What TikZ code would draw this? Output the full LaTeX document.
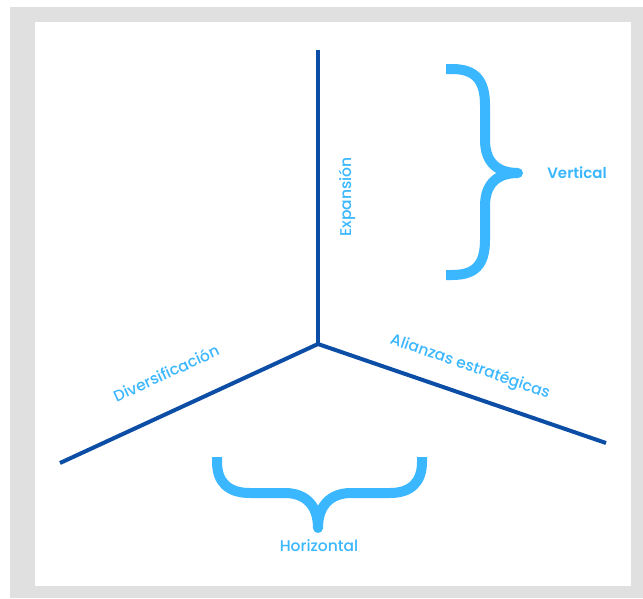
\documentclass[tikz,border=0pt]{standalone}
\usepackage{fontspec}
\setmainfont{Poppins}
\newfontfamily\medio{Poppins Medium}
\newfontfamily\semi{Poppins SemiBold}
\usepackage{tikz}
\usepackage{xcolor}
\usetikzlibrary{positioning, calc}

\definecolor{ejeazul}{RGB}{12,78,166}
\definecolor{celeste}{RGB}{58,183,255}
\definecolor{marco}{RGB}{224,224,224}

\begin{document}
\begin{tikzpicture}[
  x=1pt, y=-1pt,
  eje/.style={draw=ejeazul, line width=4pt},
  llave/.style={draw=celeste, line width=10pt, line join=round},
  etiqueta/.style={text=celeste, font=\medio\fontsize{15.5}{17}\selectfont, inner sep=1pt}
]
\useasboundingbox (0,0) rectangle (643,598);

% Frame and white sheet
\fill[white] (0,0) rectangle (643,598);
\fill[marco] (10,7) rectangle (643,598);
\fill[white] (35,22) rectangle (631,586);

% Axes
\coordinate (centro) at (318,344);
\coordinate (arriba) at (318,50);
\coordinate (izq) at (60,463);
\coordinate (der) at (606,443);
\draw[eje] (centro) -- (arriba);
\draw[eje] (centro) -- (izq);
\draw[eje] (centro) -- (der);

% Axis labels
\node[etiqueta, rotate=90] (expansion) at (347,197) {Expansión};
\node[etiqueta, rotate=24.8] (diversif) at (166,373) {Diversificación};
\node[etiqueta, rotate=-19] (alianzas) at (470,367) {Alianzas estratégicas};

% Vertical brace
\draw[llave] (446,69) -- (452,69) .. controls (475,69) and (485,80) .. (485,105)
  -- (485,140) .. controls (485,162) and (497,173) .. (518,173)
  .. controls (497,173) and (485,184) .. (485,206)
  -- (485,240) .. controls (485,265) and (475,275) .. (452,275) -- (446,275);
\node[etiqueta, font=\semi\fontsize{15}{17}\selectfont] (vertical) at (577,173) {Vertical};

% Horizontal brace
\draw[llave] (217,457) -- (217,462) .. controls (217,482) and (228,493) .. (250,493)
  -- (285,493) .. controls (305,493) and (318,505) .. (318,528)
  .. controls (318,505) and (331,493) .. (351,493)
  -- (390,493) .. controls (411,493) and (422,482) .. (422,462) -- (422,457);
\node[etiqueta] (horizontal) at (319,546) {Horizontal};

\end{tikzpicture}
\end{document}
